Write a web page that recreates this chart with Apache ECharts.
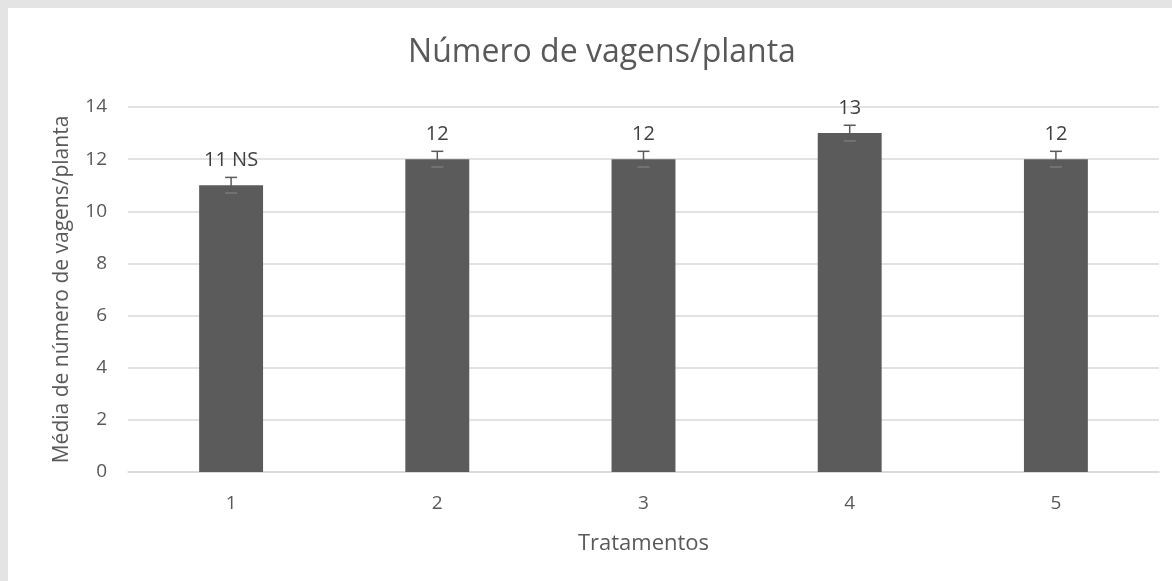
<!DOCTYPE html>
<html>
<head>
    <meta charset="utf-8"/>
    <title>Número de vagens/planta</title>
    <style>
        html, body {
            margin: 0;
            padding: 0;
            width: 1172px;
            height: 581px;
            background: #e4e4e4;
            overflow: hidden;
        }
        /* área branca do gráfico */
        #main {
            position: absolute;
            left: 8px;
            top: 8px;
            width: 1164px;
            height: 573px;
            background: #fff;
        }
    </style>
</head>
<body>
<div id="main"></div>

<script src="https://cdn.jsdelivr.net/npm/echarts@6/dist/echarts.min.js"></script>
<script>
    // dados
    var tratamentos = ['1', '2', '3', '4', '5'];
    var medias = [11, 12, 12, 13, 12];
    var erros = [0.3, 0.3, 0.3, 0.3, 0.3];
    var rotulos = ['11 NS', '12', '12', '13', '12'];

    var cor = '#595959';
    var fonte = '"Open Sans", "Noto Sans", sans-serif';

    var chart = echarts.init(document.getElementById('main'));

    var option = {
        animation: false,
        title: {
            text: 'Número de vagens/planta',
            left: 589,
            top: 24,
            textAlign: 'center',
            textStyle: {
                fontFamily: fonte,
                fontSize: 32,
                fontWeight: 'normal',
                color: cor
            }
        },
        grid: {
            left: 120,
            right: 13,
            top: 99,
            bottom: 109
        },
        xAxis: {
            type: 'category',
            data: tratamentos,
            name: 'Tratamentos',
            nameLocation: 'middle',
            nameGap: 61,
            nameTextStyle: { fontFamily: fonte, fontSize: 22, color: cor },
            axisLine: { lineStyle: { color: '#d9d9d9', width: 1.5 } },
            axisTick: { show: false },
            axisLabel: { fontFamily: fonte, fontSize: 19, color: cor, margin: 22 }
        },
        yAxis: {
            type: 'value',
            min: 0,
            max: 14,
            interval: 2,
            name: 'Média de número de vagens/planta',
            nameLocation: 'middle',
            nameGap: 55,
            nameTextStyle: { fontFamily: fonte, fontSize: 21, color: cor },
            axisLine: { show: false },
            axisTick: { show: false },
            axisLabel: { fontFamily: fonte, fontSize: 19, color: cor, margin: 21 },
            splitLine: { lineStyle: { color: '#d9d9d9', width: 1.5 } }
        },
        series: [
            {
                type: 'bar',
                data: medias,
                barWidth: '31%',
                itemStyle: { color: '#5b5b5b' },
                label: {
                    show: true,
                    position: 'top',
                    distance: 15,
                    fontFamily: fonte,
                    fontSize: 20,
                    color: '#404040',
                    formatter: function (p) {
                        return rotulos[p.dataIndex];
                    }
                }
            },
            {
                // barras de erro
                type: 'custom',
                data: medias.map(function (v, i) { return [i, v, erros[i]]; }),
                z: 5,
                renderItem: function (params, api) {
                    var i = api.value(0);
                    var m = api.value(1);
                    var e = api.value(2);
                    var alto = api.coord([i, m + e]);
                    var baixo = api.coord([i, m - e]);
                    var h = 6;
                    var estilo = { stroke: '#5a5a5a', lineWidth: 1.5 };
                    return {
                        type: 'group',
                        children: [
                            { type: 'line', shape: { x1: alto[0], y1: alto[1], x2: baixo[0], y2: baixo[1] }, style: estilo },
                            { type: 'line', shape: { x1: alto[0] - h, y1: alto[1], x2: alto[0] + h, y2: alto[1] }, style: estilo },
                            { type: 'line', shape: { x1: baixo[0] - h, y1: baixo[1], x2: baixo[0] + h, y2: baixo[1] }, style: { stroke: '#7a7a7a', lineWidth: 1.5 } }
                        ]
                    };
                }
            }
        ]
    };

    chart.setOption(option);

    window.onresize = function () {
        chart.resize();
    };
</script>
</body>
</html>
